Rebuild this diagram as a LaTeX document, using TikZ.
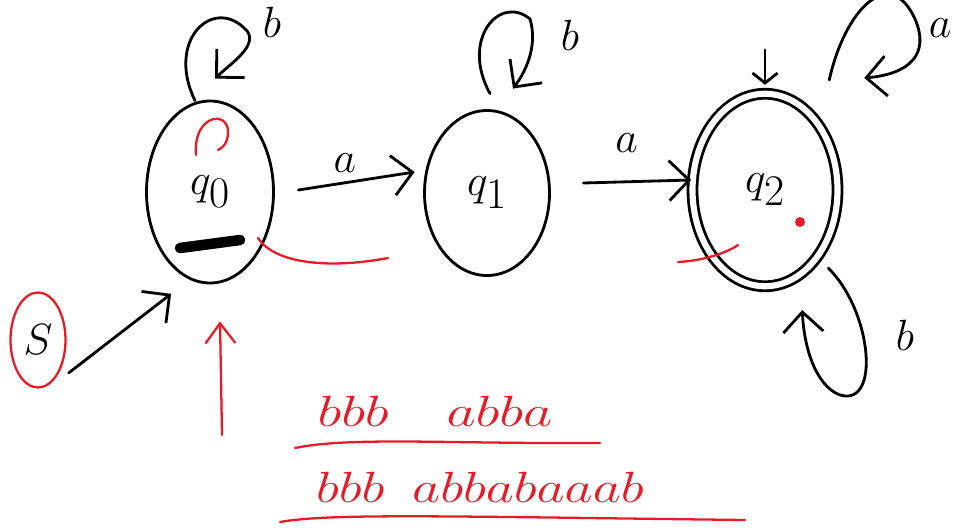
\documentclass[tikz,border=0pt]{standalone}
\usepackage{amsmath}
\usepackage{graphicx}
\usepackage{tikz}
\usetikzlibrary{arrows.meta,shapes.geometric}
\definecolor{inkred}{RGB}{228,28,40}
\tikzset{
  every picture/.style={line join=round, line cap=round},
  stnode/.style={draw, ellipse, line width=1.6pt, inner sep=0pt, font=\fontsize{50}{50}\selectfont},
  accept/.style={stnode, double, double distance=3.5pt},
  pen/.style={line width=1.6pt},
  redpen/.style={line width=1.3pt, draw=inkred},
  hand/.style={-{Straight Barb[length=4mm,width=8mm]}},
  lbl/.style={font=\fontsize{30}{30}\selectfont},
  redword/.style={text=inkred, font=\fontsize{42}{42}\selectfont},
}
\begin{document}
\begin{tikzpicture}
\useasboundingbox (0,0) rectangle (19.28,10.58);
% states
\node[stnode, minimum width=2.54cm, minimum height=3.64cm] (q0) at (4.2,6.74) {$q_0$};
\node[stnode, minimum width=2.5cm, minimum height=3.3cm] (q1) at (9.74,6.72) {$q_1$};
\node[accept, minimum width=2.9cm, minimum height=3.85cm] (q2) at (15.3,6.78) {$q_2$};
\node[stnode, draw=inkred, line width=1.3pt, minimum width=1.1cm, minimum height=1.9cm, font=\fontsize{34}{34}\selectfont] (S) at (0.76,3.78) {$S$};
% transitions
\draw[pen, hand] ([shift={(0.47,0.04)}]q0.east) -- node[lbl, above=2pt, pos=0.4] (la) {$a$} ([shift={(-0.17,0.42)}]q1.west);
\draw[pen, hand] ([shift={(0.65,0.2)}]q1.east) -- node[lbl, above=0.45cm, pos=0.4] (lb) {$a$} ([shift={(0,0.2)}]q2.west);
\draw[pen, hand] ([shift={(0.21,0.03)}]S.south east) -- ([shift={(0.14,-0.73)}]q0.south west);
% loops
\draw[pen, hand] ([shift={(-0.3,-0.02)}]q0.north) .. controls (3.3,9.8) and (4.3,10.7) .. (4.95,9.95)
  .. controls (5.15,9.65) and (4.6,9.3) .. ([shift={(0.1,0.42)}]q0.north);
\node[lbl] (bq0) at (5.44,10.14) {$b$};
\draw[pen, hand] ([shift={(0.06,0.31)}]q1.north) .. controls (9.2,9.8) and (10.0,10.7) .. (10.6,10.2)
  .. controls (10.75,9.7) and (10.55,9.2) .. ([shift={(0.52,0.41)}]q1.north);
\node[lbl] (bq1) at (11.4,9.88) {$b$};
\draw[pen, hand] ([shift={(0.24,0.82)}]q2.north east) .. controls (16.9,10.4) and (17.8,11.3) .. (18.3,10.2)
  .. controls (18.6,9.5) and (18.2,9.1) .. ([shift={(0.94,0.86)}]q2.north east);
\node[lbl] (aq2) at (18.8,10.02) {$a$};
\draw[pen, hand] ([shift={(0.22,-0.18)}]q2.south east) .. controls (17.4,4.4) and (17.6,2.6) .. (16.9,2.66)
  .. controls (16.5,2.7) and (16.1,3.3) .. ([shift={(-0.3,-1.02)}]q2.south east);
\node[lbl] (bq2) at (18.1,3.88) {$b$};
\draw[pen, -{Straight Barb[length=2mm,width=5mm]}] ([yshift=0.85cm]q2.north) -- ([yshift=0.15cm]q2.north);
% red marks
\draw[line width=6pt, line cap=round] (3.6,5.62) -- (4.8,5.78);
\draw[redpen] (3.92,7.48) .. controls (3.85,8.3) and (4.6,8.4) .. (4.56,7.9) .. controls (4.54,7.7) and (4.45,7.62) .. (4.36,7.58);
\draw[redpen] (5.16,5.82) .. controls (5.5,5.3) and (6.6,5.2) .. (7.76,5.42);
\draw[redpen] (13.56,5.34) .. controls (14.0,5.36) and (14.5,5.5) .. (14.76,5.68);
\fill[inkred] (16.0,6.14) circle (0.1);
\coordinate (mark) at (4.44,1.88);
\draw[redpen, -{Straight Barb[length=4mm,width=6mm]}] (mark) -- ([shift={(0.2,-0.74)}]q0.south);
% words
\node[redword] (w1) at (8.7,2.36) {\scalebox{1.3}[1]{$bbb\ \ abba$}};
\node[redword] (w2) at (9.6,0.84) {\scalebox{1.25}[1]{$bbb\ abbabaaab$}};
\draw[redpen] (5.9,1.62) .. controls (7.0,1.85) and (9.0,1.7) .. (12.0,1.72);
\draw[redpen] (5.6,0.14) .. controls (6.6,0.32) and (9.0,0.25) .. (14.9,0.18);
\end{tikzpicture}
\end{document}
